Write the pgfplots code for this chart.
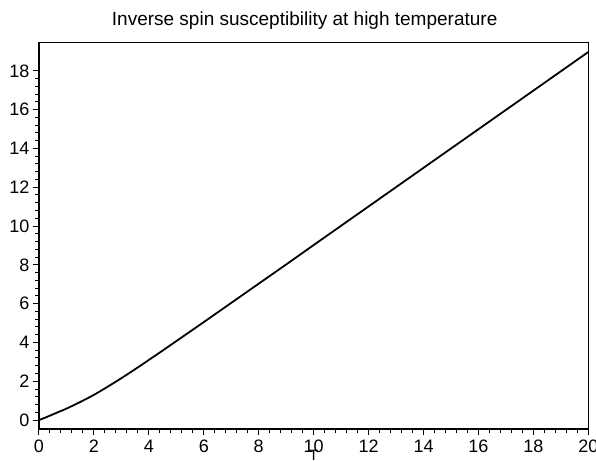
\documentclass[border=0pt]{standalone}
\usepackage{fontspec}
\setmainfont{Liberation Sans}
\usepackage{pgfplots}
\pgfplotsset{compat=1.18}
\begin{document}
\begin{tikzpicture}
\begin{axis}[
  at={(0pt,0pt)}, anchor=south west,
  scale only axis,
  width=549.3pt, height=386.7pt,
  xmin=0, xmax=20, ymin=-0.46, ymax=19.47,
  xtick={0,2,...,20}, ytick={0,2,...,18},
  minor tick num=4,
  tick pos=left, tick align=outside,
  major tick length=6pt, minor tick length=3.5pt,
  axis line style={line width=1.3pt},
  tick style={black, line width=1pt},
  /pgf/number format/assume math mode=true,
  ticklabel style={font=\fontsize{18}{18}\selectfont},
  xticklabel style={yshift=-1.5pt},
  title={Inverse spin susceptibility at high temperature},
  title style={anchor=base, inner sep=0pt, yshift=11pt, xshift=-9pt,
    font=\fontsize{19}{19}\selectfont},
  xlabel={T},
  xlabel style={at={(axis description cs:0.5,0)}, anchor=north,
    inner sep=0pt, yshift=-21pt, font=\fontsize{15}{15}\selectfont},
]
\addplot[black, line width=1.8pt, smooth] table {
T     y
0     0
0.25  0.14
0.5   0.29
0.75  0.44
1     0.59
1.5   0.93
2     1.30
2.5   1.72
3     2.16
3.5   2.62
4     3.10
4.5   3.58
5     4.07
6     5.05
7     6.04
8     7.03
9     8.02
10    9.02
12    11.01
14    13.00
16    14.99
18    16.98
20    18.97
};
\end{axis}
\pgfresetboundingbox
\useasboundingbox (-39pt,-31pt) rectangle (557pt,429pt);
\end{tikzpicture}
\end{document}
